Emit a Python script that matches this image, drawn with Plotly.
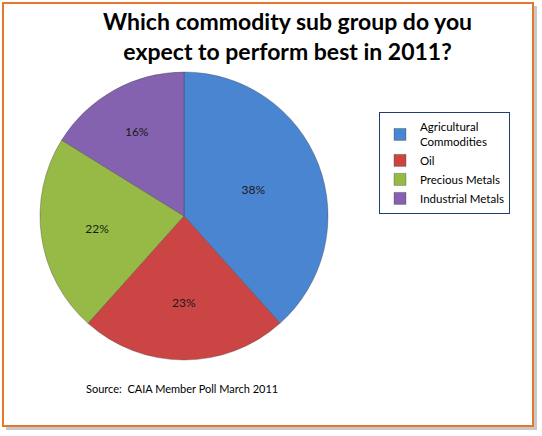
import plotly.graph_objects as go

W, H = 542, 436

labels = ["Agricultural<br>Commodities", "Oil", "Precious Metals", "Industrial Metals"]
values = [38, 23, 22, 16]
colors = ["#4A85D2", "#CC4545", "#97BA46", "#8462AF"]

title_text = "Which commodity sub group do you<br>expect to perform best in 2011?"
source_text = "Source:  CAIA Member Poll March 2011"


def px(x):
    return x / W


def py(y):
    return 1 - y / H


fig = go.Figure()

fig.add_trace(go.Pie(
    labels=labels,
    values=values,
    sort=False,
    direction="clockwise",
    rotation=0,
    marker=dict(colors=colors, line=dict(color="rgba(60,60,60,0.35)", width=1)),
    texttemplate="%{value}%",
    textposition="inside",
    insidetextorientation="horizontal",
    textfont=dict(family="Lato, Open Sans, sans-serif", size=12, color="#1a1a1a"),
    domain=dict(x=[px(40), px(328)], y=[py(360), py(72)]),
    hoverinfo="label+percent",
))

# frame with drop shadow
fig.add_shape(type="rect", xref="paper", yref="paper",
              x0=px(6), x1=px(537), y0=py(430), y1=py(6),
              fillcolor="#c8c8c8", line=dict(width=0), layer="below")
fig.add_shape(type="rect", xref="paper", yref="paper",
              x0=px(3), x1=px(533), y0=py(426), y1=py(3),
              fillcolor="white", line=dict(color="#E4782D", width=2), layer="below")

fig.update_layout(
    width=W,
    height=H,
    margin=dict(l=0, r=0, t=0, b=0),
    paper_bgcolor="white",
    plot_bgcolor="white",
    legend=dict(
        x=px(379), xanchor="left",
        y=py(112), yanchor="top",
        bordercolor="#1F3F6F",
        borderwidth=1,
        bgcolor="white",
        font=dict(family="Lato, Open Sans, sans-serif", size=11.5, color="black"),
        itemwidth=30,
        tracegroupgap=4,
    ),
    annotations=[
        dict(
            text=title_text, xref="paper", yref="paper",
            x=px(287), y=py(36), xanchor="center", yanchor="middle",
            showarrow=False,
            font=dict(family="Lato, Open Sans, sans-serif", size=23, color="black", weight="bold"),
        ),
        dict(
            text=source_text, xref="paper", yref="paper",
            x=px(84), y=py(388), xanchor="left", yanchor="middle",
            showarrow=False,
            font=dict(family="Lato, Open Sans, sans-serif", size=11, color="black"),
        ),
    ],
)

fig.write_html("out.html", config={"displayModeBar": False},
               post_script="document.body.style.margin='0';")
